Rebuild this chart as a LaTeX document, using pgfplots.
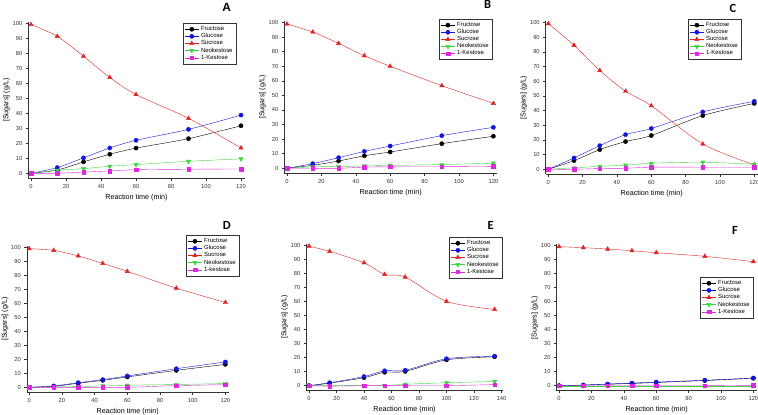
\documentclass[border=0pt]{standalone}
\usepackage{pgfplots}
\pgfplotsset{compat=1.18}
\usepackage{pgfplotstable}
\usepackage{fontspec}
\setmainfont{Liberation Sans}
\newfontfamily\carlito{Carlito}

\definecolor{gblue}{RGB}{20,20,225}
\definecolor{sred}{RGB}{225,35,35}
\definecolor{ngreen}{RGB}{60,215,60}
\definecolor{kmag}{RGB}{225,40,225}

\pgfplotstableread{
t fru glu suc neo kes
0 0 0 99.2 0 0
15 2.2 3.8 91.3 2 0
30 7.6 10.3 78 3.1 0.8
45 12.7 16.9 63.9 4.7 1.6
60 16.8 22 52.5 5.8 2.4
90 23.1 29.3 36.6 8 2.7
120 31.7 38.8 16.9 9.6 2.9
}\dataA
\pgfplotstableread{
t fru glu suc neo kes
0 0 0 99 0 0
15 2.1 3.2 93.5 1 0
30 5 7.3 85.7 1.2 0
45 8.6 11.6 77.2 1.6 0.8
60 11.2 15.3 70 2 1
90 16.9 22.4 56.7 2.6 1.1
120 22 28.1 44.5 3.5 1.3
}\dataB
\pgfplotstableread{
t fru glu suc neo kes
0 0 0 99.3 0 0
15 5.9 7.7 84.5 1 0
30 13.4 16.1 67.3 2 0.5
45 18.9 23.6 53.2 2.8 0.7
60 23 27.8 43.3 4.1 1.4
90 36.6 39.1 17.2 4.8 1.4
120 44.9 46.3 3 3.4 1.4
}\dataC
\pgfplotstableread{
t fru glu suc neo kes
0 0 0 99 0 0
15 0.7 1 97.8 0.3 0
30 2.9 3.3 93.8 0.5 0
45 5 5.5 88.5 1 0
60 7.4 8.1 82.8 1.5 0
90 12.1 13.3 70.8 2 1.2
120 16.4 18.1 60.6 2.7 1.9
}\dataD
\pgfplotstableread{
t fru glu suc neo kes
0 0 0 99.3 0 0
15 1.8 2.1 95.6 0 -0.3
40 5.7 6.5 87.5 0 0
55 9.6 10.6 79.2 0 0
70 10.2 11 77.3 1 0
100 18.4 19.2 60 2.1 0
135 20.6 21 54.3 3 0.8
}\dataE
\pgfplotstableread{
t fru glu suc neo kes
0 0 0 99.3 0 0
15 0.4 0.5 98.6 0 0
30 1 1.2 97.6 0 0
45 1.6 1.9 96.4 0 0
60 2.3 2.6 95 0 0
90 3.7 3.9 92.4 0 0
120 5.3 5.5 88.6 0 0.3
}\dataF

\pgfplotsset{
  panel/.style={
    scale only axis, axis lines*=left, tick align=outside,
    major tick length=2.5bp,
    xmin=-1.5, xmax=122, ymin=-3.5, ymax=101,
    ytick={0,10,...,100}, xtick={0,20,...,120},
    tick label style={font=\fontsize{5.8}{6}\selectfont, color=black!80},
    /pgf/number format/assume math mode=true,
    xlabel={Reaction time (min)}, ylabel={[Sugars] (g/L)},
    label style={font=\fontsize{7.2}{8}\selectfont},
    axis line style={black!80, line width=0.5pt},
    every tick/.style={black!80, line width=0.5pt},
    xlabel style={yshift=1bp},
    ylabel style={yshift=-4bp},
    legend style={font=\fontsize{6}{7}\selectfont, draw=black!80, line width=0.4pt,
      inner xsep=1.5bp, inner ysep=1.2bp, row sep=-2.6bp, anchor=north west, cells={anchor=west}},
    legend image code/.code={\draw[mark repeat=2,mark phase=2,#1] plot coordinates {(0bp,0bp) (7bp,0bp) (14bp,0bp)};},
  },
  fru/.style={color=black, mark=*, mark size=2.1bp, line width=0.4pt, smooth},
  glu/.style={color=gblue, mark=*, mark size=2.1bp, line width=0.4pt, smooth},
  suc/.style={color=sred, mark=triangle*, mark size=2.5bp, line width=0.4pt, smooth},
  neo/.style={color=ngreen, mark=triangle*, mark size=2.5bp, mark options={rotate=180}, line width=0.4pt, smooth},
  kes/.style={color=kmag, mark=square*, mark size=1.8bp, line width=0.4pt, smooth},
}

\newcommand{\allplots}[1]{%
  \addplot[fru] table[x=t,y=fru]{#1};
  \addplot[glu] table[x=t,y=glu]{#1};
  \addplot[suc] table[x=t,y=suc]{#1};
  \addplot[neo] table[x=t,y=neo]{#1};
  \addplot[kes] table[x=t,y=kes]{#1};
}

\begin{document}
\begin{tikzpicture}[x=1bp,y=1bp]
\useasboundingbox (0,0) rectangle (758,414);

% Panel A
\begin{axis}[panel, at={(28.4bp,235.45bp)}, anchor=south west,
  width=216.1bp, height=156.75bp,
  legend style={at={(0.715,0.992)}}]
\allplots{\dataA}
\legend{Fructose,Glucose,Sucrose,Neokestose,1-Kestose}
\end{axis}

% Panel B
\begin{axis}[panel, at={(284.4bp,240.6bp)}, anchor=south west,
  width=212.4bp, height=152.3bp,
  legend style={at={(0.728,1.014)}}]
\allplots{\dataB}
\legend{Fructose,Glucose,Sucrose,Neokestose,1-Kestose}
\end{axis}

% Panel C
\begin{axis}[panel, at={(545.7bp,239.6bp)}, anchor=south west,
  width=212bp, height=153.3bp,
  legend style={at={(0.671,1.014)}}]
\allplots{\dataC}
\legend{Fructose,Glucose,Sucrose,Neokestose,1-Kestose}
\end{axis}

% Panel D
\begin{axis}[panel, at={(26.75bp,21.8bp)}, anchor=south west,
  width=201.9bp, height=146.3bp,
  legend style={at={(0.789,1.074)}}]
\allplots{\dataD}
\legend{Fructose,Glucose,Sucrose,Neokestose,1-kestose}
\end{axis}

% Panel E
\begin{axis}[panel, at={(306.25bp,23.4bp)}, anchor=south west,
  xmin=-2, xmax=141, xtick={0,20,...,140},
  width=196.6bp, height=146.8bp,
  legend style={at={(0.726,1.046)}}]
\allplots{\dataE}
\legend{Fructose,Glucose,Sucrose,Neokestose,1-Kestose}
\end{axis}

% Panel F
\begin{axis}[panel, at={(556.6bp,23.4bp)}, anchor=south west,
  width=200bp, height=146.3bp,
  legend style={at={(0.717,0.776)}}]
\allplots{\dataF}
\legend{Fructose,Glucose,Sucrose,Neokestose,1-Kestose}
\end{axis}

\node[font=\fontsize{12}{12}\selectfont\bfseries] at (226.7,406.7) {A};
\node[font=\carlito\fontsize{12.5}{12}\selectfont\bfseries] at (487.7,409.3) {B};
\node[font=\carlito\fontsize{12.5}{12}\selectfont\bfseries] at (733,405.7) {C};
\node[font=\carlito\fontsize{12.5}{12}\selectfont\bfseries] at (226.7,189) {D};
\node[font=\carlito\fontsize{12.5}{12}\selectfont\bfseries] at (490.7,189) {E};
\node[font=\carlito\fontsize{12.5}{12}\selectfont\bfseries] at (735,184) {F};
\end{tikzpicture}
\end{document}
